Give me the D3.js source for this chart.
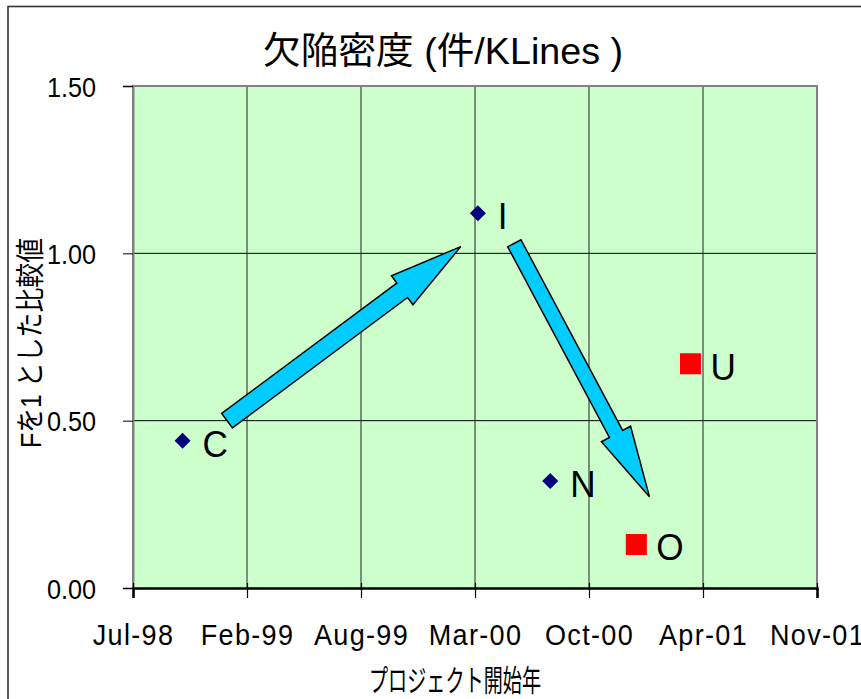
<!DOCTYPE html>
<html>
<head>
<meta charset="utf-8">
<script src="https://cdn.jsdelivr.net/npm/d3@7"></script>
<style>
  html, body { margin: 0; padding: 0; background: #ffffff; }
  svg { display: block; }
  text { font-family: "Liberation Sans", Arial, "Noto Sans CJK JP", sans-serif; fill: #000; }
</style>
</head>
<body>
<svg id="chart" width="861" height="699"></svg>
<script>
// ---- data ----
const title = "欠陥密度 (件/KLines )";
const xTitle = "プロジェクト開始年";
const yTitle = "Fを1 とした比較値";

// series 1 (navy diamonds)
const s1Labels = ["C", "I", "N"];
const s1Dates  = ["1998-10-19", "2000-03-20", "2000-07-25"];
const s1Values = [0.44, 1.12, 0.32];

// series 2 (red squares)
const s2Labels = ["O", "U"];
const s2Dates  = ["2000-12-23", "2001-03-28"];
const s2Values = [0.13, 0.67];

// axis
const xDomain   = ["1998-07-24", "2001-11-05"];
const xTickDates = ["1998-07-24", "1999-02-09", "1999-08-28", "2000-03-15", "2000-10-01", "2001-04-19", "2001-11-05"];
const yTicks    = [0, 0.5, 1.0, 1.5];

// annotation arrows (data space): [startDate, startValue, endDate, endValue]
const arrowStarts = [["1999-01-05", 0.50], ["2000-05-23", 1.03]];
const arrowEnds   = [["2000-02-19", 1.02], ["2001-01-15", 0.273]];

// ---- layout ----
const parse = d3.utcParse("%Y-%m-%d");
const plot = { left: 133, right: 817, top: 86, bottom: 588 };

const x = d3.scaleUtc().domain(xDomain.map(parse)).range([plot.left, plot.right]);
const y = d3.scaleLinear().domain([0, 1.5]).range([plot.bottom, plot.top]);

const svg = d3.select("#chart");

// outer chart frame
svg.append("rect")
  .attr("x", 8).attr("y", 6.5).attr("width", 900).attr("height", 800)
  .attr("fill", "#fff").attr("stroke", "#333").attr("stroke-width", 1.6);

// plot background
svg.append("rect")
  .attr("x", plot.left).attr("y", plot.top)
  .attr("width", plot.right - plot.left).attr("height", plot.bottom - plot.top)
  .attr("fill", "#ccffcc");

// grid lines
const grid = svg.append("g");
grid.selectAll("line.h").data(yTicks.filter(d => d > 0 && d < 1.5)).join("line")
  .attr("x1", plot.left).attr("x2", plot.right)
  .attr("y1", d => y(d)).attr("y2", d => y(d))
  .attr("stroke", "#000").attr("stroke-width", 1);
grid.selectAll("line.v").data(xTickDates.slice(1, -1).map(parse)).join("line")
  .attr("x1", d => x(d)).attr("x2", d => x(d))
  .attr("y1", plot.top).attr("y2", plot.bottom)
  .attr("stroke", "#222").attr("stroke-width", 1);

// plot border (top / right / left gray)
svg.append("path")
  .attr("d", `M${plot.left},${plot.bottom} V${plot.top} H${plot.right} V${plot.bottom}`)
  .attr("fill", "none").attr("stroke", "#808080").attr("stroke-width", 2);

// condense helper: keep glyph height, narrow the width like the reference
function condense(sel, factor) {
  sel.each(function () {
    const w = this.getComputedTextLength();
    d3.select(this).attr("textLength", w * factor).attr("lengthAdjust", "spacingAndGlyphs");
  });
}

// y axis
const yAxis = svg.append("g")
  .attr("transform", `translate(${plot.left},0)`)
  .call(d3.axisLeft(y).tickValues(yTicks).tickFormat(d3.format(".2f")).tickSize(10).tickPadding(27));
yAxis.select(".domain").attr("stroke", "#808080").attr("stroke-width", 2);
yAxis.selectAll(".tick line").attr("stroke", "#000").attr("stroke-width", 1);
yAxis.selectAll(".tick text")
  .attr("font-size", 28).attr("dy", "0.36em")
  .style("font-family", "'Liberation Sans', Arial, sans-serif")
  .call(condense, 0.9);

// x axis
const xAxis = svg.append("g")
  .attr("transform", `translate(0,${plot.bottom})`)
  .call(d3.axisBottom(x).tickValues(xTickDates.map(parse)).tickFormat(d3.utcFormat("%b-%y")).tickSize(10).tickPadding(26));
xAxis.select(".domain").attr("stroke", "#000").attr("stroke-width", 2.5);
xAxis.selectAll(".tick line").attr("stroke", "#000").attr("stroke-width", 1.2).attr("y1", -5);
xAxis.selectAll(".tick text")
  .attr("font-size", 30).attr("dy", "0.71em")
  .style("letter-spacing", "1.5px")
  .style("font-family", "'Liberation Sans', Arial, sans-serif")
  .call(condense, 0.9);

// arrows
function arrowPoly(p0, p1, shaftW, headW, headL) {
  const dx = p1[0] - p0[0], dy = p1[1] - p0[1];
  const L = Math.hypot(dx, dy);
  const ux = dx / L, uy = dy / L, nx = -uy, ny = ux;
  const bx = p1[0] - ux * headL, by = p1[1] - uy * headL;
  const s = shaftW / 2, h = headW / 2;
  const pts = [
    [p0[0] + nx * s, p0[1] + ny * s],
    [bx + nx * s, by + ny * s],
    [bx + nx * h, by + ny * h],
    [p1[0], p1[1]],
    [bx - nx * h, by - ny * h],
    [bx - nx * s, by - ny * s],
    [p0[0] - nx * s, p0[1] - ny * s]
  ];
  return "M" + pts.map(p => p.join(",")).join("L") + "Z";
}
const arrowShaft = [18, 15], arrowHeadW = [36, 33], arrowHeadL = [73, 71];
svg.append("g").selectAll("path").data(arrowStarts).join("path")
  .attr("d", (d, i) => arrowPoly(
    [x(parse(d[0])), y(d[1])],
    [x(parse(arrowEnds[i][0])), y(arrowEnds[i][1])],
    arrowShaft[i], arrowHeadW[i], arrowHeadL[i]))
  .attr("fill", "#00ccff").attr("stroke", "#000").attr("stroke-width", 1.5)
  .attr("stroke-linejoin", "miter");

// series
const s1 = s1Labels.map((l, i) => ({ label: l, date: parse(s1Dates[i]), value: s1Values[i] }));
const s2 = s2Labels.map((l, i) => ({ label: l, date: parse(s2Dates[i]), value: s2Values[i] }));

svg.append("g").selectAll("path").data(s1).join("path")
  .attr("transform", d => `translate(${x(d.date)},${y(d.value)})`)
  .attr("d", "M0,-8L8,0L0,8L-8,0Z")
  .attr("fill", "#000080");

svg.append("g").selectAll("rect").data(s2).join("rect")
  .attr("x", d => x(d.date) - 10.5).attr("y", d => y(d.value) - 10.5)
  .attr("width", 21).attr("height", 21)
  .attr("fill", "#ff0000");

// point labels
svg.append("g").selectAll("text").data(s1.concat(s2)).join("text")
  .attr("x", d => x(d.date) + 20).attr("y", d => y(d.value) + 16)
  .attr("font-size", 37)
  .text(d => d.label)
  .call(condense, 0.95);

// title
svg.append("text")
  .attr("x", 443).attr("y", 64).attr("text-anchor", "middle")
  .attr("font-size", 37)
  .attr("textLength", 360).attr("lengthAdjust", "spacingAndGlyphs")
  .style("font-family", "'Liberation Sans', 'Noto Sans CJK JP', sans-serif")
  .text(title);

// x axis title
svg.append("text")
  .attr("x", 455).attr("y", 691).attr("text-anchor", "middle")
  .attr("font-size", 30)
  .attr("textLength", 172).attr("lengthAdjust", "spacingAndGlyphs")
  .style("font-family", "'Noto Sans CJK JP', sans-serif")
  .text(xTitle);

// y axis title
svg.append("text")
  .attr("transform", "translate(41,343) rotate(-90)")
  .attr("text-anchor", "middle")
  .attr("font-size", 29)
  .attr("textLength", 210).attr("lengthAdjust", "spacingAndGlyphs")
  .style("font-family", "'Liberation Sans', 'Noto Sans CJK JP', sans-serif")
  .text(yTitle);
</script>
</body>
</html>
